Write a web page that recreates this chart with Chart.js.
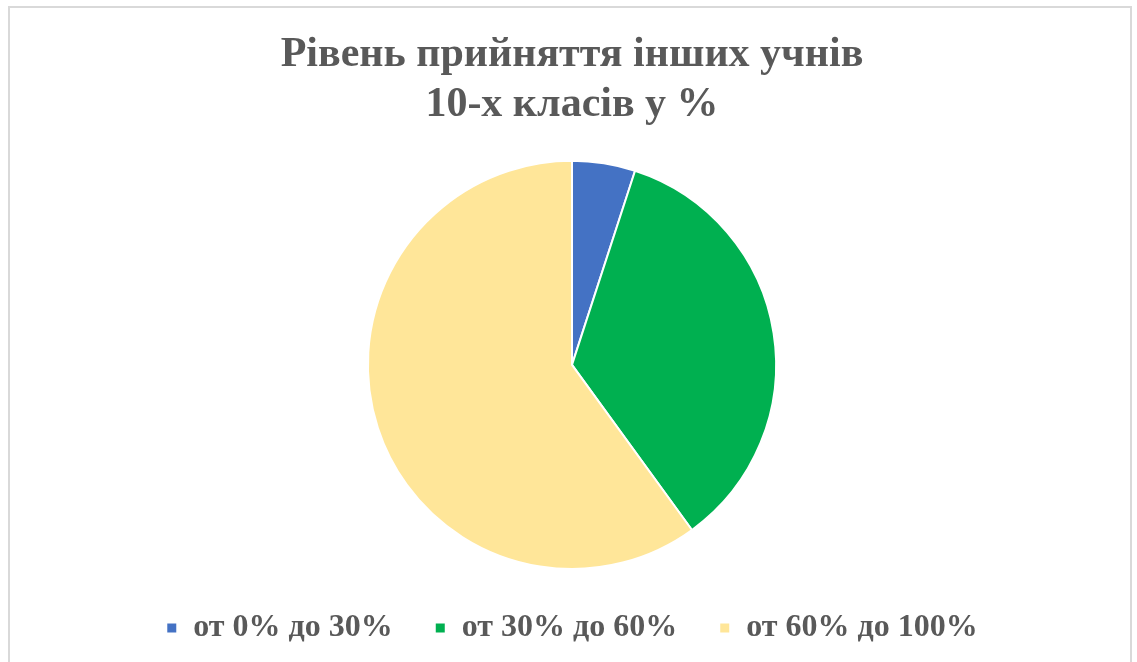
<!DOCTYPE html>
<html>
<head>
<meta charset="utf-8">
<script src="https://cdn.jsdelivr.net/npm/chart.js"></script>
<style>
  html, body { margin: 0; padding: 0; background: #fff; overflow: hidden; }
  #frame {
    position: absolute; left: 8px; top: 6px; width: 1124px; height: 700px;
    border: 2px solid #d9d9d9; box-sizing: border-box;
  }
  #wrap { position: absolute; left: 11px; top: 8px; width: 1122px; height: 654px; }
</style>
</head>
<body>
<div id="frame"></div>
<div id="wrap"><canvas id="pieChart"></canvas></div>
<script>
const categories = ['от 0% до 30%', 'от 30% до 60%', 'от 60% до 100%'];
const shares = [5, 35, 60];
const sliceColors = ['#4472C4', '#00B050', '#FFE699'];
const titleLines = ['Рівень прийняття інших учнів', '10-х класів у %'];

const serif = '"Liberation Serif", "Times New Roman", serif';

new Chart(document.getElementById('pieChart'), {
  type: 'pie',
  data: {
    labels: categories,
    datasets: [{
      data: shares,
      backgroundColor: sliceColors,
      borderColor: '#ffffff',
      borderWidth: 2
    }]
  },
  options: {
    responsive: true,
    maintainAspectRatio: false,
    animation: false,
    layout: { padding: { top: 0, bottom: 8 } },
    plugins: {
      title: {
        display: true,
        text: titleLines,
        color: '#595959',
        font: { family: serif, size: 42, weight: 'bold', lineHeight: 1.2 },
        padding: { top: 22, bottom: 29 }
      },
      legend: {
        position: 'bottom',
        labels: {
          color: '#595959',
          font: { family: serif, size: 32, weight: 'bold' },
          boxWidth: 11,
          boxHeight: 11,
          padding: 42
        }
      },
      tooltip: { enabled: false }
    }
  }
});
</script>
</body>
</html>
